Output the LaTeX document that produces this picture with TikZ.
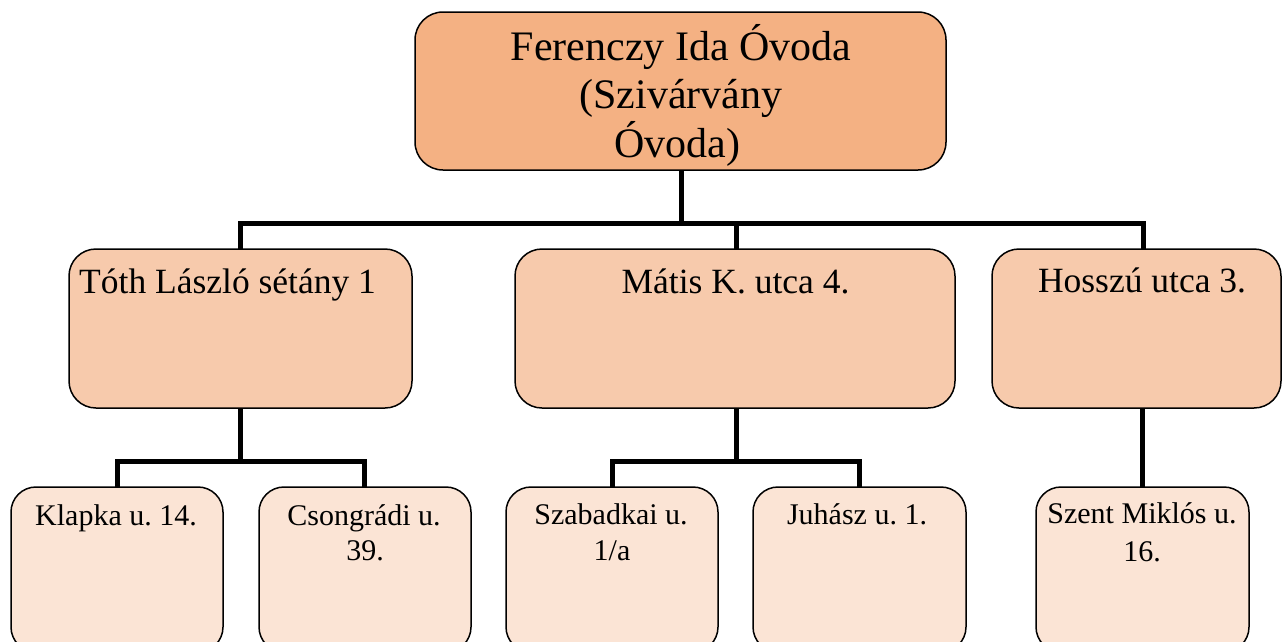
\documentclass[tikz,border=0pt]{standalone}
\usepackage{fontspec}
\setmainfont{Liberation Serif}
\frenchspacing
\definecolor{topfill}{HTML}{F4B183}
\definecolor{midfill}{HTML}{F7CAAC}
\definecolor{botfill}{HTML}{FBE4D5}
\tikzset{
  boxbase/.style={draw=black, line width=1.5pt, inner sep=0pt, outer sep=0pt},
  topbox/.style={boxbase, fill=topfill, rounded corners=28pt},
  midbox/.style={boxbase, fill=midfill, rounded corners=27pt},
  botbox/.style={boxbase, fill=botfill, rounded corners=25pt},
  conn/.style={draw=black, line width=5pt},
  toptext/.style={anchor=base, inner sep=0pt, font=\frenchspacing\fontsize{42}{48}\selectfont},
  midtext/.style={anchor=base, inner sep=0pt, font=\frenchspacing\fontsize{35.5}{41}\selectfont},
  bottext/.style={anchor=base, inner sep=0pt, font=\frenchspacing\fontsize{30}{36}\selectfont}
}
\begin{document}
\begin{tikzpicture}[x=1pt,y=-1pt]
\useasboundingbox (0,0) rectangle (1282,641);
% boxes
\node[topbox, minimum width=531pt, minimum height=158pt] (top) at (680.5,91) {};
\node[midbox, minimum width=343pt, minimum height=159pt] (m1) at (240.5,328.5) {};
\node[midbox, minimum width=440pt, minimum height=159pt] (m2) at (735,328.5) {};
\node[midbox, minimum width=289pt, minimum height=159pt] (m3) at (1136.5,328.5) {};
\node[botbox, minimum width=212pt, minimum height=165pt] (b1) at (117,569.5) {};
\node[botbox, minimum width=212pt, minimum height=165pt] (b2) at (365,569.5) {};
\node[botbox, minimum width=212pt, minimum height=165pt] (b3) at (612,569.5) {};
\node[botbox, minimum width=213pt, minimum height=165pt] (b4) at (859.5,569.5) {};
\node[botbox, minimum width=213pt, minimum height=165pt] (b5) at (1142.5,569.5) {};
% connectors
\draw[conn] ([xshift=0.5pt]top.south) -- ++(0,53) -| (m1.north);
\draw[conn] ([xshift=0.5pt]top.south) -- ++(0,53) -| ([xshift=1pt]m2.north);
\draw[conn] ([xshift=0.5pt]top.south) -- ++(0,53) -| ([xshift=6.5pt]m3.north);
\draw[conn] (m1.south) -- ++(0,53) -| (b1.north);
\draw[conn] (m1.south) -- ++(0,53) -| ([xshift=-1pt]b2.north);
\draw[conn] ([xshift=1pt]m2.south) -- ++(0,53) -| (b3.north);
\draw[conn] ([xshift=1pt]m2.south) -- ++(0,53) -| (b4.north);
\draw[conn] (b5.north |- m3.south) -- (b5.north);
% texts
\node[toptext] (t1) at (681,60) {Ferenczy Ida Óvoda};
\node[toptext] (t2) at (681,108) {(Szivárvány};
\node[toptext] (t3) at (677,157) {Óvoda)};
\node[midtext, anchor=base west] (tm1) at (79,293) {Tóth László sétány 1};
\node[midtext] (tm2) at (735.5,293) {Mátis K. utca 4.};
\node[midtext] (tm3) at (1142,292) {Hosszú utca 3.};
\node[bottext] (tb1) at (116,525) {Klapka u. 14.};
\node[bottext] (tb2a) at (364,525) {Csongrádi u.};
\node[bottext] (tb2b) at (365,560) {39.};
\node[bottext] (tb3a) at (611,524) {Szabadkai u.};
\node[bottext] (tb3b) at (612,560) {1/a};
\node[bottext] (tb4) at (857,524) {Juhász u. 1.};
\node[bottext] (tb5a) at (1142,523) {Szent Miklós u.};
\node[bottext] (tb5b) at (1142,561) {16.};
\end{tikzpicture}
\end{document}
